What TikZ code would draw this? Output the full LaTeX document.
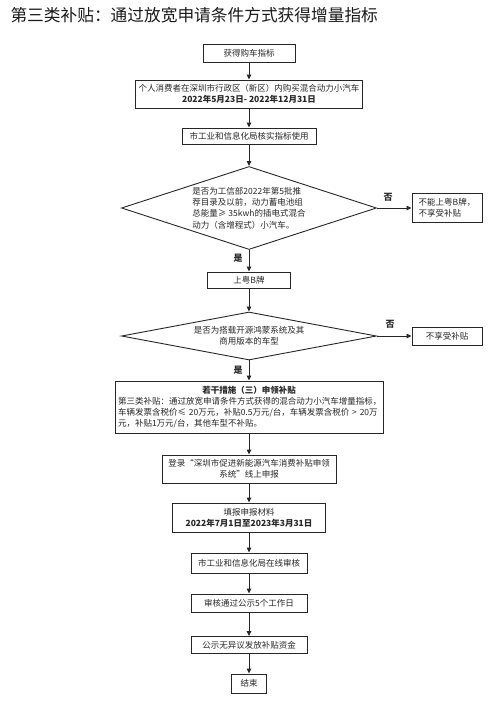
\documentclass[tikz,border=0pt]{standalone}
\usepackage{fontspec}
\setmainfont{Noto Sans CJK SC}
\usetikzlibrary{arrows.meta,shapes.geometric}

\begin{document}
\begin{tikzpicture}[x=1pt, y=-1pt,
    box/.style={draw=black!85, line width=0.9pt, inner sep=1pt, align=center, font=\fontsize{8.5}{11}\selectfont, text=black!85},
    dec/.style={draw=black!85, line width=0.9pt, diamond, inner sep=0pt, font=\fontsize{8.5}{11.3}\selectfont, text=black!85},
    arr/.style={-{Triangle[length=5pt, width=4.5pt]}, line width=0.9pt, black!85},
    lbl/.style={font=\fontsize{9}{10}\bfseries\selectfont, text=black!85}
]
\useasboundingbox (0,0) rectangle (499,702);

\node[anchor=west, font=\fontsize{16.7}{18}\selectfont, text=black!90] (title) at (7,15) {第三类补贴：通过放宽申请条件方式获得增量指标};

\node[box, minimum width=92, minimum height=18] (quota) at (249,53) {获得购车指标};
\node[box, minimum width=227, minimum height=28] (buy) at (249,94) {个人消费者在深圳市行政区（新区）内购买混合动力小汽车\\\textbf{2022年5月23日- 2022年12月31日}};
\node[box, minimum width=134, minimum height=16] (verify) at (249,136) {市工业和信息化局核实指标使用};
\node[dec, minimum width=255, minimum height=83, aspect=3.07, align=left] (catalog) at (249,208) {是否为工信部2022年第5批推\\荐目录及以前，动力蓄电池组\\总能量≥ 35kwh的插电式混合\\动力（含增程式）小汽车。};
\node[box, minimum width=70, minimum height=29, align=left] (noplate) at (447,208) {不能上粤B牌，\\不享受补贴};
\node[box, minimum width=83, minimum height=16] (plate) at (249,280) {上粤B牌};
\node[dec, minimum width=255, minimum height=48, aspect=5.3, align=center] (harmony) at (249,336) {是否为搭载开源鸿蒙系统及其\\商用版本的车型};
\node[box, minimum width=70, minimum height=18] (nosub) at (447,336) {不享受补贴};
\node[box, minimum width=268, minimum height=52, text width=262, align=left] (rules) at (249,407) {\makebox[\linewidth]{\bfseries 若干措施（三）申领补贴}\\第三类补贴：通过放宽申请条件方式获得的混合动力小汽车增量指标，\\车辆发票含税价≤ 20万元，补贴0.5万元/台，车辆发票含税价 > 20万\\元，补贴1万元/台，其他车型不补贴。};
\node[box, minimum width=174, minimum height=28] (login) at (249,469) {登录“深圳市促进新能源汽车消费补贴申领\\系统”线上申报};
\node[box, minimum width=153, minimum height=29] (fill) at (249,517.5) {填报申报材料\\\textbf{2022年7月1日至2023年3月31日}};
\node[box, minimum width=116, minimum height=20] (review) at (249,563) {市工业和信息化局在线审核};
\node[box, minimum width=116, minimum height=18] (publicize) at (249,603) {审核通过公示5个工作日};
\node[box, minimum width=116, minimum height=17] (fund) at (249,645) {公示无异议发放补贴资金};
\node[box, minimum width=35, minimum height=19] (finish) at (249,683.5) {结束};

\node[lbl] (no1) at (388,197) {否};
\node[lbl] (yes1) at (238,258) {是};
\node[lbl] (no2) at (390,324) {否};
\node[lbl] (yes2) at (238,370) {是};

\draw[arr] (quota) -- (buy);
\draw[arr] (buy) -- (verify);
\draw[arr] (verify) -- (catalog);
\draw[arr] (catalog.east) -- (noplate);
\draw[arr] (catalog) -- (plate);
\draw[arr] (plate) -- (harmony);
\draw[arr] (harmony.east) -- (nosub);
\draw[arr] (harmony) -- (rules);
\draw[arr] (rules) -- (login);
\draw[arr] (login) -- (fill);
\draw[arr] (fill) -- (review);
\draw[arr] (review) -- (publicize);
\draw[arr] (publicize) -- (fund);
\draw[arr] (fund) -- (finish);
\end{tikzpicture}
\end{document}
